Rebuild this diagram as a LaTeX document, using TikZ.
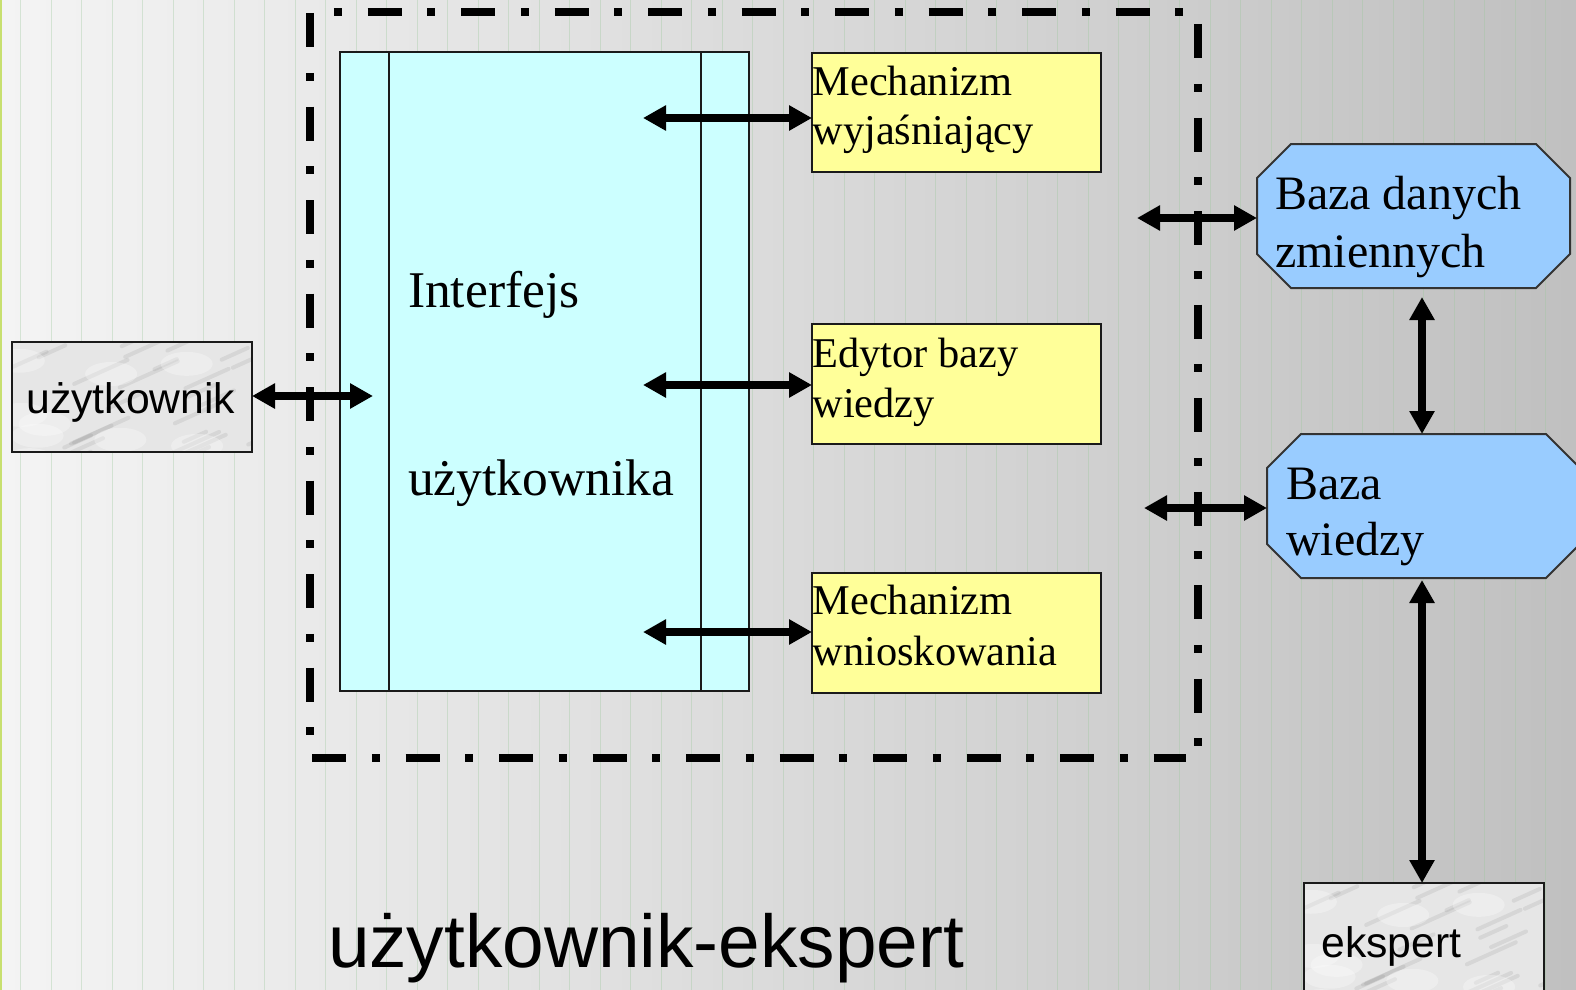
\documentclass[tikz,border=0pt]{standalone}
\usepackage{fontspec}
\setmainfont{Liberation Serif}
\setsansfont{Liberation Sans}
\usetikzlibrary{arrows.meta,calc}
\definecolor{cyanfill}{HTML}{CCFFFF}
\definecolor{yelfill}{HTML}{FFFF99}
\definecolor{octfill}{HTML}{99CCFF}
\definecolor{bgL}{HTML}{F4F4F4}
\definecolor{bgR}{HTML}{C0C0C0}
\definecolor{gridc}{HTML}{9CC89C}
\definecolor{edgec}{HTML}{C8E070}
\definecolor{marblec}{HTML}{E6E6E6}
\definecolor{bordc}{HTML}{1A1A1A}
\newcommand\fYel{\fontsize{42.4}{50}\selectfont}
\newcommand\fOct{\fontsize{48}{57}\selectfont}
\newcommand\fIfc{\fontsize{51.5}{60}\selectfont}
\newcommand\fSans{\sffamily\fontsize{42.7}{50}\selectfont}
\newcommand\fBig{\sffamily\fontsize{74.8}{88}\selectfont}
\begin{document}
\begin{tikzpicture}[x=1pt,y=-1pt,
  every node/.style={inner sep=0pt, outer sep=0pt},
  dbl/.style={{Triangle[length=23pt,width=24pt]}-{Triangle[length=23pt,width=24pt]}, line width=7.5pt, black},
  framestyle/.style={line width=8pt, black, dash pattern=on 34pt off 25.75pt on 8pt off 25.75pt},
  ybox/.style={draw=bordc, line width=2pt, fill=yelfill, minimum width=289pt, minimum height=119.5pt, anchor=north west},
  octbox/.style={minimum width=313pt, minimum height=144pt, anchor=north west},
  octline/.style={draw=black!80, line width=2pt, fill=octfill},
  marblebox/.style={draw=bordc, line width=2pt, fill=marblec, anchor=north west,
    path picture={
      \pgfmathsetseed{7}
      \foreach \k in {1,...,26}{
        \pgfmathsetmacro\px{rnd}
        \pgfmathsetmacro\py{rnd}
        \pgfmathsetmacro\pw{20+40*rnd}
        \draw[black!60, opacity=.12, line width=4pt, line cap=round]
          ($(path picture bounding box.north west)!\px!(path picture bounding box.north east)+(0,{\py*130})$) -- ++(\pw,{-0.45*\pw});
      }
      \foreach \k in {1,...,10}{
        \pgfmathsetmacro\px{rnd}
        \pgfmathsetmacro\py{rnd}
        \fill[white, opacity=.3]
          ($(path picture bounding box.north west)!\px!(path picture bounding box.north east)+(0,{\py*130})$) ellipse (26pt and 12pt);
      }
    }},
  txt/.style={anchor=base west}
]
\useasboundingbox (0,0) rectangle (1576,990);
\clip (0,0) rectangle (1576,990);

% background
\shade[left color=bgL, right color=bgR] (0,0) rectangle (1576,990);
\foreach \i in {0,...,50} \draw[gridc, opacity=.35, line width=1pt] ({20.5+30.5*\i},0) -- ++(0,990);
\fill[edgec] (0,0) rectangle (2,990);

% dash-dot frame
\draw[framestyle] (310,13) -- (310,736);
\draw[framestyle, dash phase=36pt] (310,12.5) -- (1185,12.5);
\draw[framestyle] (312,758) -- (1186,758);
\draw[framestyle] (1198,24) -- (1198,748);

% interface box
\node[draw=bordc, line width=2pt, fill=cyanfill, minimum width=409pt, minimum height=639pt, anchor=north west] (iface) at (340,52) {};
\draw[bordc, line width=2pt] ($(iface.north west)+(49,0)$) -- ($(iface.south west)+(49,0)$);
\draw[bordc, line width=2pt] ($(iface.north east)+(-48.5,0)$) -- ($(iface.south east)+(-48.5,0)$);
\node[txt, font=\fIfc] (ifc1) at (408,307) {Interfejs};
\node[txt, font=\fIfc] (ifc2) at (408,495) {użytkownika};

% yellow boxes
\node[ybox] (mech) at (812,52.7) {};
\node[txt, font=\fYel] (mech1) at (812.5,95) {Mechanizm};
\node[txt, font=\fYel] (mech2) at (812.5,144) {wyjaśniający};
\node[ybox] (edyt) at (812,324) {};
\node[txt, font=\fYel] (edyt1) at (812.5,367) {Edytor bazy};
\node[txt, font=\fYel] (edyt2) at (812.5,417) {wiedzy};
\node[ybox] (wnio) at (812,573) {};
\node[txt, font=\fYel] (wnio1) at (812.5,614) {Mechanizm};
\node[txt, font=\fYel] (wnio2) at (812.5,665) {wnioskowania};

% octagons
\node[octbox] (bdz) at (1257,144) {};
\draw[octline] ($(bdz.north west)+(34,0)$) -- ($(bdz.north east)+(-34,0)$) -- ($(bdz.north east)+(0,34)$) -- ($(bdz.south east)+(0,-34)$) -- ($(bdz.south east)+(-34,0)$) -- ($(bdz.south west)+(34,0)$) -- ($(bdz.south west)+(0,-34)$) -- ($(bdz.north west)+(0,34)$) -- cycle;
\node[txt, font=\fOct] (bdz1) at (1275,209) {Baza danych};
\node[txt, font=\fOct] (bdz2) at (1275,267) {zmiennych};

\node[octbox] (bw) at (1267,434) {};
\draw[octline] ($(bw.north west)+(34,0)$) -- ($(bw.north east)+(-34,0)$) -- ($(bw.north east)+(0,34)$) -- ($(bw.south east)+(0,-34)$) -- ($(bw.south east)+(-34,0)$) -- ($(bw.south west)+(34,0)$) -- ($(bw.south west)+(0,-34)$) -- ($(bw.north west)+(0,34)$) -- cycle;
\node[txt, font=\fOct] (bw1) at (1286,499) {Baza};
\node[txt, font=\fOct] (bw2) at (1286,555) {wiedzy};

% marble boxes
\node[marblebox, minimum width=240pt, minimum height=110pt] (uzyt) at (12,342) {};
\node[txt, font=\fSans] (uzyt1) at (26.5,413) {użytkownik};
\node[marblebox, minimum width=240pt, minimum height=130pt] (eksp) at (1304,883) {};
\node[txt, font=\fSans] (eksp1) at (1321.5,957) {ekspert};

% bottom title
\node[txt, font=\fBig] (title) at (328,967) {użytkownik-ekspert};

% connectors
\coordinate (a0) at (373,396);
\draw[dbl] (uzyt.east |- a0) -- (a0);
\coordinate (a1) at (643,118);
\draw[dbl] (a1) -- (a1 -| mech.west);
\coordinate (a2) at (643,385);
\draw[dbl] (a2) -- (a2 -| edyt.west);
\coordinate (a3) at (643,632);
\draw[dbl] (a3) -- (a3 -| wnio.west);
\coordinate (b1) at (1137,218);
\draw[dbl] (b1) -- (b1 -| bdz.west);
\coordinate (b2) at (1144,508);
\draw[dbl] (b2) -- (b2 -| bw.west);
\coordinate (v1) at (1422,297);
\draw[dbl] (v1) -- (v1 |- bw.north);
\coordinate (v2) at (1422,580);
\draw[dbl] (v2) -- (v2 |- eksp.north);
\end{tikzpicture}
\end{document}
